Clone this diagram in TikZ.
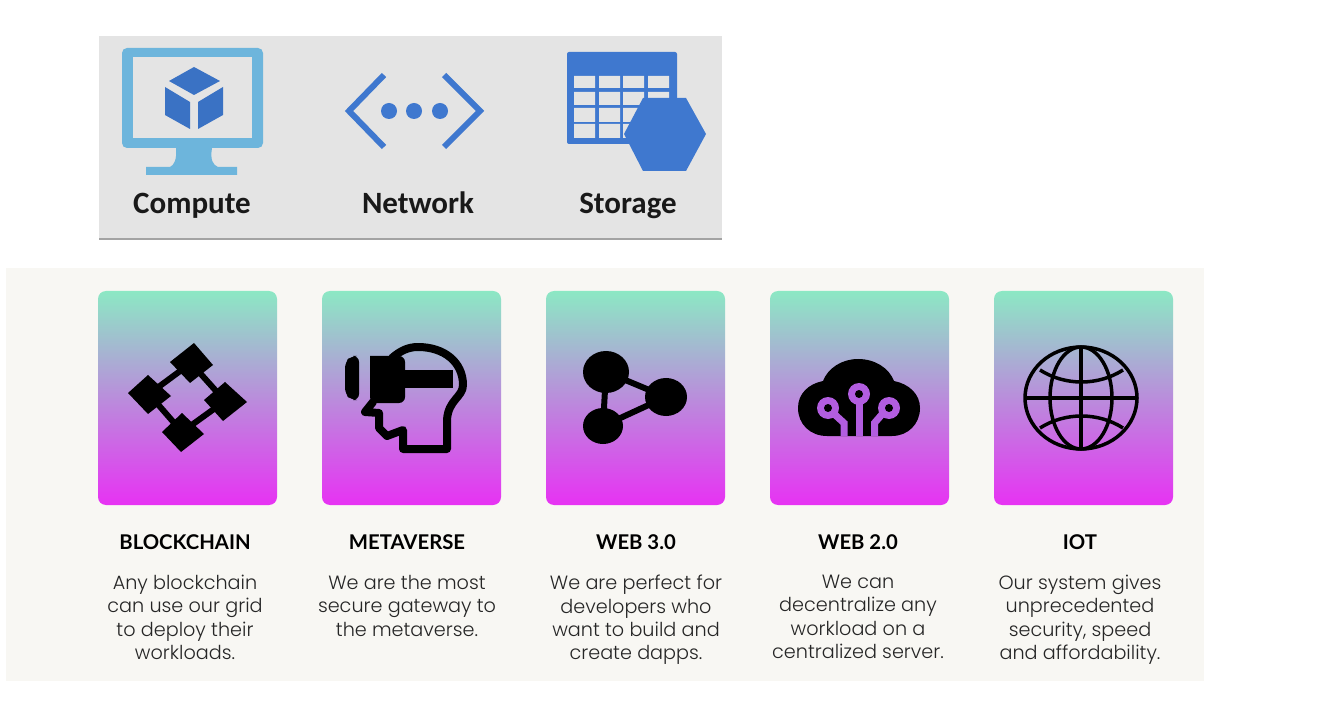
\documentclass[tikz,border=0pt]{standalone}
\usepackage{fontspec}
\usetikzlibrary{shadows}
\setmainfont{Carlito}
\newfontfamily\titlefont{Lato}
\newfontfamily\bodyfont{Poppins}[UprightFont=* Light]
\definecolor{panelgray}{HTML}{E4E4E4}
\definecolor{paper}{HTML}{F8F7F3}
\definecolor{iconblue}{HTML}{3F78CF}
\definecolor{cubeblue}{HTML}{3A72C4}
\definecolor{screenblue}{HTML}{6DB5DC}
\definecolor{cardtop}{HTML}{8CE8C4}
\definecolor{cardmid}{HTML}{AC7BDC}
\definecolor{cardlow}{HTML}{E732F3}
\definecolor{tracecolor}{HTML}{B25DE0}
\tikzset{
  panelbox/.style={fill=panelgray,minimum width=623pt,minimum height=202pt,inner sep=0pt,
    drop shadow={shadow xshift=0pt,shadow yshift=-2pt,fill=black!60,opacity=.6}},
  panellabel/.style={font=\fontsize{31}{31}\selectfont\bfseries,text=black!90,inner sep=0pt,anchor=base},
  paperbox/.style={fill=paper,minimum width=1198pt,minimum height=413pt,inner sep=0pt},
  cardbox/.style={rounded corners=8pt,minimum width=179pt,minimum height=214pt,inner sep=0pt,
    top color=cardtop,middle color=cardmid,bottom color=cardlow},
  cardtitle/.style={font=\titlefont\fontsize{20.3}{20.3}\selectfont\bfseries,text=black,inner sep=0pt,anchor=base},
  cardtext/.style={font=\bodyfont\fontsize{19.2}{23.3}\selectfont,text=black!85,align=center,inner sep=0pt,anchor=north,
    execute at begin node=\strut},
}
\begin{document}
\begin{tikzpicture}[x=1pt,y=-1pt]
  \useasboundingbox (0,0) rectangle (1341,708);
  \node[panelbox] (panel) at (410.5,137) {};
  \node[paperbox] (paperback) at (605,474.5) {};
  % compute
  \draw[fill=screenblue,draw=none,rounded corners=5pt] (122,48) rectangle (263,148);
  \fill[panelgray] (133,57) rectangle (252,138);
  \fill[screenblue] (176,148) .. controls (177,160) and (174,165) .. (170,167) -- (146,167) -- (146,175)
    -- (237,175) -- (237,167) -- (218,167) .. controls (213,165) and (210,160) .. (212,148) -- cycle;
  \fill[cubeblue] (194,67) -- (220,81) -- (194,95) -- (169,81) -- cycle;
  \fill[cubeblue] (165,87) -- (190,102) -- (190,129) -- (165,115) -- cycle;
  \fill[cubeblue] (223,87) -- (198,102) -- (198,129) -- (223,115) -- cycle;
  % network
  \draw[iconblue,line width=6pt,line join=miter] (384,75) -- (349,111) -- (384,147);
  \draw[iconblue,line width=6pt,line join=miter] (444,75) -- (480,111) -- (444,147);
  \fill[iconblue] (389,111) circle (8) (414,111) circle (8) (440,111) circle (8);
  % storage
  \fill[iconblue,rounded corners=2pt] (567,52) rectangle (677,144);
  \fill[panelgray] (574,76) rectangle (595,88) (599,76) rectangle (620,88) (623,76) rectangle (644,88) (648,76) rectangle (669,88);
  \fill[panelgray] (574,92) rectangle (595,105) (599,92) rectangle (620,105) (623,92) rectangle (644,105) (648,92) rectangle (669,105);
  \fill[panelgray] (574,108) rectangle (595,122) (599,108) rectangle (620,122) (623,108) rectangle (644,122);
  \fill[panelgray] (574,124) rectangle (595,138) (599,124) rectangle (620,138) (623,124) rectangle (644,138);
  \fill[iconblue] (643,98) -- (686,98) -- (706,134) -- (686,171) -- (643,171) -- (624,134) -- cycle;
  \node[panellabel] (compute) at (192,214) {Compute};
  \node[panellabel] (network) at (418,214) {Network};
  \node[panellabel] (storage) at (628,214) {Storage};
  % cards
  \node[cardbox] (blockcard) at (187.5,398) {};
  \node[cardbox] (metacard) at (411.5,398) {};
  \node[cardbox] (webthreecard) at (635.5,398) {};
  \node[cardbox] (webtwocard) at (859.5,398) {};
  \node[cardbox] (iotcard) at (1083.5,398) {};
  % blockchain icon
  \draw[black,line width=6pt] (191,363) -- (149,394) -- (182,432) -- (225,401) -- cycle;
  \fill[black] (194,343) -- (213,365) -- (190,383) -- (170,362) -- cycle;
  \fill[black] (148,375) -- (171,396) -- (148,414) -- (128,393) -- cycle;
  \fill[black] (225,382) -- (247,402) -- (223,421) -- (204,400) -- cycle;
  \fill[black] (182,413) -- (204,434) -- (181,452) -- (162,432) -- cycle;
  % metaverse icon
  \fill[black,rounded corners=6pt] (359,356) -- (351,356) -- (345,362) -- (345,394) -- (351,400) -- (359,400) -- cycle;
  \fill[black,rounded corners=6pt] (370,356) -- (405,356) -- (405,403) -- (370,403) [sharp corners] -- cycle;
  \fill[black] (400,370) rectangle (453,388);
  \draw[black,line width=8pt,line join=round,line cap=round] (392,358) .. controls (400,351) and (408,347) .. (418,347)
    .. controls (444,347) and (463,362) .. (463,385) .. controls (463,397) and (448,400) .. (447,420)
    -- (447,449) -- (403,449) -- (403,430) -- (387,436) -- (379,428) -- (379,413) -- (365,412) -- (373,402);
  % web3 icon
  \draw[black,line width=6pt] (606,372) -- (666,397) -- (603,426) -- cycle;
  \fill[black] (606,372) ellipse (23 and 21);
  \fill[black] (666,397) ellipse (21 and 19);
  \fill[black] (603,426) ellipse (20 and 18);
  % web2 icon
  \fill[black] (827,436) .. controls (810,436) and (798,424) .. (798,408) .. controls (798,394) and (808,384) .. (823,381)
    .. controls (828,368) and (842,359) .. (858,359) .. controls (875,359) and (889,368) .. (894,381)
    .. controls (909,384) and (920,394) .. (920,408) .. controls (920,424) and (908,436) .. (892,436) -- cycle;
  \draw[tracecolor,line width=7pt] (859,400) -- (859,436);
  \draw[tracecolor,line width=7pt] (832,412) -- (844,423) -- (844,436);
  \draw[tracecolor,line width=7pt] (884,412) -- (874.5,423) -- (874.5,436);
  \fill[tracecolor] (859,394) circle (11) (828,408) circle (11) (889,408) circle (11);
  \fill[black] (859,394) circle (4) (828,408) circle (4) (889,408) circle (4);
  % iot icon
  \draw[black,line width=3.5pt] (1081,398) ellipse (56 and 51);
  \draw[black,line width=3.5pt] (1081,398) ellipse (31 and 51);
  \draw[black,line width=3.5pt] (1081,347) -- (1081,449);
  \draw[black,line width=3.5pt] (1025,398) -- (1137,398);
  \draw[black,line width=3.5pt] (1040,370) .. controls (1065,386) and (1098,386) .. (1123,370);
  \draw[black,line width=3.5pt] (1040,428) .. controls (1065,412) and (1098,412) .. (1123,428);
  % labels
  \node[cardtitle] (blocktitle) at (185,549) {BLOCKCHAIN};
  \node[cardtitle] (metatitle) at (407,549) {METAVERSE};
  \node[cardtitle] (webthreetitle) at (636,549) {WEB 3.0};
  \node[cardtitle] (webtwotitle) at (858,549) {WEB 2.0};
  \node[cardtitle] (iottitle) at (1080,549) {IOT};
  \node[cardtext] (blocktext) at (185,575) {Any blockchain\\can use our grid\\to deploy their\\workloads.};
  \node[cardtext] (metatext) at (407,575) {We are the most\\secure gateway to\\the metaverse.};
  \node[cardtext] (webthreetext) at (636,575) {We are perfect for\\developers who\\want to build and\\create dapps.};
  \node[cardtext] (webtwotext) at (858,575) {We can\\decentralize any\\workload on a\\centralized server.};
  \node[cardtext] (iottext) at (1080,575) {Our system gives\\unprecedented\\security, speed\\and affordability.};
\end{tikzpicture}
\end{document}
